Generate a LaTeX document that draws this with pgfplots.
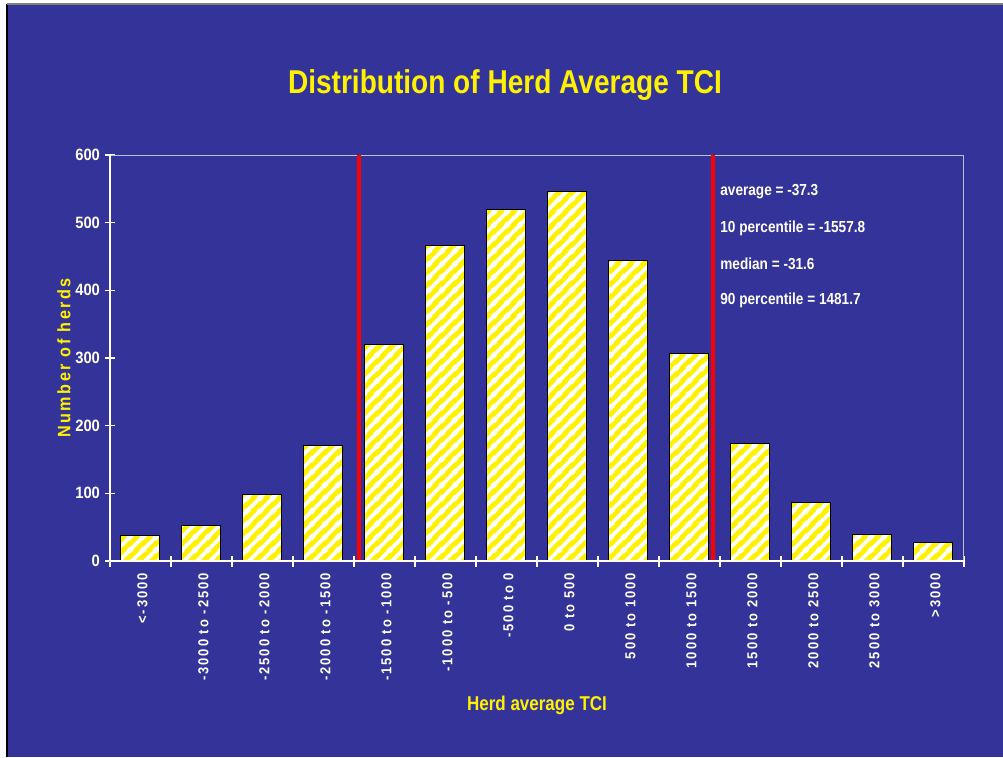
\documentclass[border=0pt]{standalone}
\usepackage{fontspec}
\setmainfont{Liberation Sans}
\newfontfamily\narrow{Liberation Sans}[FakeStretch=0.85]
\newfontfamily\tickf{Liberation Sans}[FakeStretch=0.9]
\newfontfamily\spaced{Liberation Sans}[FakeStretch=0.9, LetterSpace=14]
\usepackage{pgfplots}
\pgfplotsset{compat=1.18}
\usetikzlibrary{patterns.meta}
\definecolor{slide}{HTML}{333399}
\definecolor{boxc}{RGB}{190,190,225}

\tikzdeclarepattern{
  name=hatch,
  type=uncolored,
  bottom left={(0pt,0pt)},
  top right={(6.5pt,6.5pt)},
  tile size={(6.5pt,6.5pt)},
  code={
    \draw[line width=2pt] (-1pt,-1pt) -- (7.5pt,7.5pt);
    \draw[line width=2pt] (-1.5pt,5pt) -- (1.5pt,8pt);
    \draw[line width=2pt] (5pt,-1.5pt) -- (8pt,1.5pt);
  }
}

\begin{document}
\begin{tikzpicture}
\useasboundingbox (-55pt,-98pt) rectangle (446.5pt,280.5pt);
\fill[slide] (-51.5pt,-98pt) rectangle (446.5pt,278.5pt);
\draw[black, line width=0.6pt] (-51.5pt,-98pt) -- (-51.5pt,278.5pt);
\draw[gray, line width=0.6pt] (-51.5pt,278.5pt) -- (446.5pt,278.5pt);
\begin{axis}[
  scale only axis, width=427pt, height=203pt,
  xmin=-0.5, xmax=13.5, ymin=0, ymax=600,
  xtick={0,...,13},
  xticklabels={{<-3000},{-3000 to -2500},{-2500 to -2000},{-2000 to -1500},{-1500 to -1000},{-1000 to -500},{-500  to 0},{0 to 500},{500 to 1000},{1000 to 1500},{1500 to 2000},{2000 to 2500},{2500 to 3000},{>3000}},
  minor xtick={-0.5,0.5,...,13.5},
  ytick={0,100,...,600},
  xtick pos=bottom, ytick pos=left,
  tick align=center,
  major tick length=5pt, minor tick length=5.5pt,
  tick style={white, line width=0.8pt},
  every major x tick/.append style={draw=none},
  axis line style={draw=boxc, line width=0.5pt},
  /pgf/number format/assume math mode=true,
  yticklabel style={text=white, font=\tickf\bfseries\fontsize{8.2}{10}\selectfont, xshift=1pt},
  xticklabel style={rotate=90, anchor=east, text=white, font=\spaced\bfseries\fontsize{7.2}{9}\selectfont, yshift=-1pt},
  clip=false,
]
\addplot[ybar, bar width=19.5pt, draw=black, line width=0.5pt, fill=yellow,
  postaction={pattern=hatch, pattern color=white}] coordinates {
  (0,38) (1,52) (2,98) (3,170) (4,320) (5,467) (6,519)
  (7,546) (8,444) (9,307) (10,174) (11,87) (12,39) (13,27)};
\addplot[red, line width=2pt, mark=none] coordinates {(3.59,0) (3.59,600)};
\addplot[red, line width=2pt, mark=none] coordinates {(9.39,0) (9.39,600)};
\draw[white, line width=1pt] (rel axis cs:0,0) -- (rel axis cs:1,0);
\draw[white, line width=1pt] (rel axis cs:0,0) -- (rel axis cs:0,1);
\node[anchor=center, text=yellow, font=\narrow\bfseries\fontsize{16.5}{18}\selectfont]
  at (axis description cs:0.4625,1.172) {Distribution of Herd Average TCI};
\node[anchor=center, text=yellow, font=\narrow\bfseries\fontsize{10}{12}\selectfont]
  at (axis description cs:0.5,-0.3547) {Herd average TCI};
\node[anchor=center, rotate=90, text=yellow, font=\spaced\bfseries\fontsize{9}{11}\selectfont]
  at (axis description cs:-0.054,0.5) {Number of herds};
\begin{scope}[every node/.style={anchor=west, inner sep=0pt, text=white, font=\narrow\bfseries\fontsize{8}{10}\selectfont}]
\node at (axis description cs:0.7143,0.9089) {average = -37.3};
\node at (axis description cs:0.7143,0.8202) {10 percentile = -1557.8};
\node at (axis description cs:0.7143,0.7315) {median = -31.6};
\node at (axis description cs:0.7143,0.6429) {90 percentile = 1481.7};
\end{scope}
\end{axis}
\end{tikzpicture}
\end{document}
